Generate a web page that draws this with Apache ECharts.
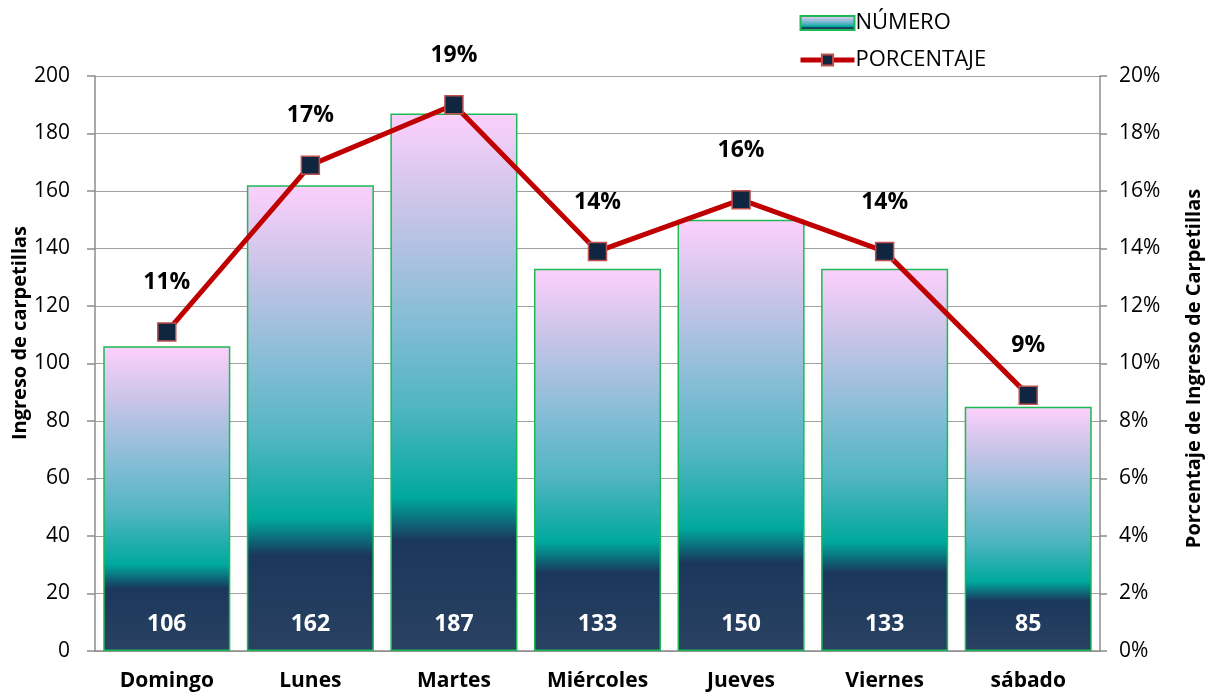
<!DOCTYPE html>
<html>
<head>
<meta charset="utf-8">
<script src="https://cdn.jsdelivr.net/npm/echarts@6/dist/echarts.min.js"></script>
<style>
html,body{margin:0;padding:0;background:#fff;}
#c{width:1216px;height:699px;}
</style>
</head>
<body>
<div id="c"></div>
<script>
const categories = ['Domingo', 'Lunes', 'Martes', 'Miércoles', 'Jueves', 'Viernes', 'sábado'];
const numero = [106, 162, 187, 133, 150, 133, 85];
const porcentaje = [11.1, 16.9, 19.0, 13.9, 15.7, 13.9, 8.9];
const leftTicks = {min: 0, max: 200, interval: 20};
const rightTicks = {min: 0, max: 20, interval: 2};
const leftTitle = 'Ingreso de carpetillas';
const rightTitle = 'Porcentaje de Ingreso de Carpetillas';

const FONT = '"Open Sans", "Noto Sans", sans-serif';
const barGradient = new echarts.graphic.LinearGradient(0, 0, 0, 1, [
  {offset: 0, color: '#fdd0fc'},
  {offset: 0.18, color: '#c8c4e8'},
  {offset: 0.38, color: '#86bdd6'},
  {offset: 0.55, color: '#4fb5c1'},
  {offset: 0.715, color: '#00a99d'},
  {offset: 0.76, color: '#0d6a7a'},
  {offset: 0.795, color: '#1b375c'},
  {offset: 1, color: '#2a4262'}
]);

const chart = echarts.init(document.getElementById('c'));
chart.setOption({
  animation: false,
  textStyle: {fontFamily: FONT},
  graphic: [
    {
      type: 'text',
      x: 20,
      y: 333,
      rotation: Math.PI / 2,
      style: {
        text: leftTitle,
        fill: '#000',
        font: 'bold 20px "Open Sans", "Noto Sans", sans-serif',
        align: 'center',
        verticalAlign: 'middle'
      }
    }
  ],
  legend: {
    orient: 'vertical',
    left: 793,
    top: 7,
    itemGap: 15,
    itemWidth: 54,
    itemHeight: 14,
    textStyle: {fontSize: 22, color: '#000', fontFamily: FONT, padding: [0, 0, 0, -4]},
    data: [
      {name: 'NÚMERO', icon: 'rect'},
      {name: 'PORCENTAJE', lineStyle: {width: 5, color: '#c00000'}}
    ]
  },
  grid: {left: 95, right: 116, top: 76, bottom: 48, containLabel: false, outerBoundsMode: 'none'},
  xAxis: {
    type: 'category',
    data: categories,
    axisLine: {show: true, lineStyle: {color: '#8c8c8c', width: 1.5}},
    axisTick: {show: false},
    axisLabel: {fontSize: 21, fontWeight: 'bold', color: '#000', margin: 20, fontFamily: FONT}
  },
  yAxis: [
    {
      type: 'value',
      min: leftTicks.min, max: leftTicks.max, interval: leftTicks.interval,
      axisLine: {show: true, lineStyle: {color: '#8c8c8c', width: 1.5}},
      axisTick: {show: true, length: 8, lineStyle: {color: '#8c8c8c', width: 1.5}},
      axisLabel: {fontSize: 21, color: '#000', margin: 25, fontFamily: FONT},
      splitLine: {show: true, lineStyle: {color: '#a0a0a0', width: 1.2}}
    },
    {
      type: 'value',
      position: 'right',
      min: rightTicks.min, max: rightTicks.max, interval: rightTicks.interval,
      name: rightTitle,
      nameLocation: 'middle',
      nameGap: 84,
      nameRotate: 90,
      nameTextStyle: {fontSize: 20, fontWeight: 'bold', color: '#000', fontFamily: FONT, padding: [0, 10, 0, 0]},
      axisLine: {show: true, lineStyle: {color: '#8c8c8c', width: 1.5}},
      axisTick: {show: true, length: 7, lineStyle: {color: '#8c8c8c', width: 1.5}},
      axisLabel: {fontSize: 21, color: '#000', margin: 19, formatter: '{value}%', fontFamily: FONT},
      splitLine: {show: false}
    }
  ],
  series: [
    {
      name: 'NÚMERO',
      type: 'bar',
      data: numero,
      yAxisIndex: 0,
      barCategoryGap: '11.5%',
      itemStyle: {color: barGradient, borderColor: '#1db954', borderWidth: 1.5},
      label: {
        show: true,
        position: 'insideBottom',
        distance: 15,
        color: '#fff',
        fontSize: 23,
        fontWeight: 'bold',
        fontFamily: FONT
      },
      z: 2
    },
    {
      name: 'PORCENTAJE',
      type: 'line',
      data: porcentaje,
      yAxisIndex: 1,
      symbol: 'rect',
      symbolSize: 18,
      lineStyle: {color: '#c00000', width: 5},
      itemStyle: {color: '#0f2540', borderColor: '#c0504d', borderWidth: 1.5},
      label: {
        show: true,
        position: 'top',
        distance: 28,
        color: '#000',
        fontSize: 23,
        fontWeight: 'bold',
        fontFamily: FONT,
        formatter: p => Math.round(p.value) + '%'
      },
      z: 5
    }
  ]
});
</script>
</body>
</html>
